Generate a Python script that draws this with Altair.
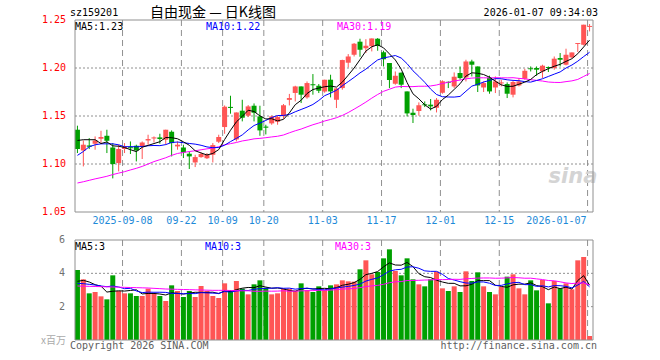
import altair as alt
import pandas as pd

dates = [
    "2025-08-27", "2025-08-28", "2025-08-29",
    "2025-09-01", "2025-09-02", "2025-09-03", "2025-09-04", "2025-09-05",
    "2025-09-08", "2025-09-09", "2025-09-10", "2025-09-11", "2025-09-12",
    "2025-09-15", "2025-09-16", "2025-09-17", "2025-09-18", "2025-09-19",
    "2025-09-22", "2025-09-23", "2025-09-24", "2025-09-25", "2025-09-26",
    "2025-09-29", "2025-09-30",
    "2025-10-09", "2025-10-10",
    "2025-10-13", "2025-10-14", "2025-10-15", "2025-10-16", "2025-10-17",
    "2025-10-20", "2025-10-21", "2025-10-22", "2025-10-23", "2025-10-24",
    "2025-10-27", "2025-10-28", "2025-10-29", "2025-10-30", "2025-10-31",
    "2025-11-03", "2025-11-04", "2025-11-05", "2025-11-06", "2025-11-07",
    "2025-11-10", "2025-11-11", "2025-11-12", "2025-11-13", "2025-11-14",
    "2025-11-17", "2025-11-18", "2025-11-19", "2025-11-20", "2025-11-21",
    "2025-11-24", "2025-11-25", "2025-11-26", "2025-11-27", "2025-11-28",
    "2025-12-01", "2025-12-02", "2025-12-03", "2025-12-04", "2025-12-05",
    "2025-12-08", "2025-12-09", "2025-12-10", "2025-12-11", "2025-12-12",
    "2025-12-15", "2025-12-16", "2025-12-17", "2025-12-18", "2025-12-19",
    "2025-12-22", "2025-12-23", "2025-12-24", "2025-12-25", "2025-12-26",
    "2025-12-29", "2025-12-30", "2025-12-31",
    "2026-01-05", "2026-01-06", "2026-01-07",
]

opens = [
    1.1357, 1.1141, 1.1193, 1.1211, 1.1263, 1.1294, 1.1172, 1.1010, 1.1156, 1.1175,
    1.1190, 1.1183, 1.1245, 1.1266, 1.1277, 1.1253, 1.1336, 1.1183, 1.1172, 1.1107,
    1.1016, 1.1072, 1.1060, 1.1096, 1.1232, 1.1385, 1.1595, 1.1256, 1.1555, 1.1503,
    1.1607, 1.1496, 1.1390, 1.1423, 1.1440, 1.1498, 1.1668, 1.1740, 1.1808, 1.1694,
    1.1831, 1.1815, 1.1756, 1.1878, 1.1669, 1.1791, 1.2055, 1.2138, 1.2274, 1.2206,
    1.2227, 1.2305, 1.2164, 1.2052, 1.1836, 1.1951, 1.1756, 1.1534, 1.1552, 1.1622,
    1.1618, 1.1586, 1.1742, 1.1856, 1.1808, 1.1948, 1.1902, 1.2068, 1.2016, 1.1797,
    1.1899, 1.1797, 1.1839, 1.1833, 1.1722, 1.1818, 1.1888, 1.1997, 1.2000, 1.1964,
    1.2010, 1.2000, 1.2104, 1.2034, 1.2110, 1.2250, 1.2242, 1.2428,
]
highs = [
    1.1399, 1.1245, 1.1270, 1.1287, 1.1346, 1.1357, 1.1218, 1.1201, 1.1218, 1.1235,
    1.1201, 1.1235, 1.1305, 1.1287, 1.1315, 1.1357, 1.1350, 1.1235, 1.1201, 1.1131,
    1.1096, 1.1120, 1.1114, 1.1218, 1.1305, 1.1610, 1.1711, 1.1537, 1.1669, 1.1614,
    1.1631, 1.1607, 1.1409, 1.1503, 1.1503, 1.1625, 1.1730, 1.1815, 1.1808, 1.1860,
    1.1937, 1.1833, 1.1878, 1.1930, 1.1791, 1.2086, 1.2145, 1.2260, 1.2305, 1.2300,
    1.2308, 1.2312, 1.2180, 1.2052, 1.1964, 1.1954, 1.1756, 1.1576, 1.1642, 1.1652,
    1.1677, 1.1687, 1.1872, 1.1860, 1.1954, 1.2016, 1.2086, 1.2086, 1.2016, 1.1860,
    1.1920, 1.1912, 1.1878, 1.1850, 1.1867, 1.1895, 1.1992, 1.2016, 1.2016, 1.2034,
    1.2016, 1.2120, 1.2156, 1.2201, 1.2162, 1.2260, 1.2451, 1.2458,
]
lows = [
    1.1114, 1.0975, 1.1156, 1.1149, 1.1218, 1.1114, 1.0850, 1.0923, 1.1114, 1.1104,
    1.1027, 1.1052, 1.1201, 1.1224, 1.1211, 1.1201, 1.1079, 1.1149, 1.1062, 1.0948,
    1.0968, 1.1065, 1.1052, 1.1016, 1.1218, 1.1315, 1.1524, 1.1235, 1.1444, 1.1489,
    1.1444, 1.1294, 1.1308, 1.1409, 1.1409, 1.1472, 1.1610, 1.1652, 1.1635, 1.1680,
    1.1722, 1.1739, 1.1742, 1.1694, 1.1583, 1.1774, 1.2006, 1.2120, 1.2117, 1.2156,
    1.2173, 1.2180, 1.2016, 1.1791, 1.1826, 1.1791, 1.1496, 1.1427, 1.1503, 1.1593,
    1.1558, 1.1537, 1.1732, 1.1791, 1.1791, 1.1878, 1.1860, 1.1912, 1.1750, 1.1750,
    1.1732, 1.1739, 1.1808, 1.1687, 1.1694, 1.1808, 1.1878, 1.1964, 1.1919, 1.1895,
    1.1958, 1.1982, 1.2016, 1.2027, 1.2104, 1.2167, 1.2235, 1.2381,
]
closes = [
    1.1156, 1.1201, 1.1180, 1.1245, 1.1281, 1.1242, 1.0999, 1.1156, 1.1183, 1.1164,
    1.1141, 1.1224, 1.1260, 1.1277, 1.1260, 1.1357, 1.1218, 1.1201, 1.1120, 1.1079,
    1.1072, 1.1104, 1.1096, 1.1197, 1.1281, 1.1597, 1.1584, 1.1537, 1.1482, 1.1600,
    1.1534, 1.1350, 1.1378, 1.1496, 1.1489, 1.1612, 1.1687, 1.1808, 1.1722, 1.1843,
    1.1820, 1.1763, 1.1878, 1.1756, 1.1787, 1.2083, 1.2120, 1.2253, 1.2190, 1.2232,
    1.2308, 1.2229, 1.2091, 1.1875, 1.1919, 1.1826, 1.1527, 1.1510, 1.1612, 1.1612,
    1.1600, 1.1669, 1.1862, 1.1846, 1.1909, 1.1895, 1.2068, 1.2034, 1.1818, 1.1843,
    1.1756, 1.1860, 1.1850, 1.1732, 1.1854, 1.1860, 1.1971, 1.1987, 1.1982, 1.2024,
    1.2000, 1.2097, 1.2086, 1.2138, 1.2162, 1.2260, 1.2451, 1.2438,
]
volumes = [
    4.20, 3.64, 2.80, 2.88, 2.62, 2.44, 3.88, 2.94, 2.80, 2.80,
    2.64, 2.64, 3.08, 2.80, 2.64, 2.34, 3.28, 2.94, 2.58, 2.94,
    2.58, 3.24, 2.94, 2.64, 2.52, 3.40, 3.00, 3.54, 3.08, 2.74,
    3.34, 3.58, 3.14, 2.74, 2.80, 3.08, 3.08, 2.94, 3.40, 3.00,
    2.88, 3.22, 3.00, 3.28, 3.34, 3.58, 3.52, 3.50, 4.24, 4.78,
    3.94, 4.08, 4.90, 5.44, 4.14, 3.88, 4.90, 3.64, 3.34, 3.22,
    3.64, 4.10, 3.10, 2.94, 3.22, 2.88, 4.12, 3.54, 4.06, 3.22,
    2.88, 2.74, 3.18, 3.80, 3.94, 3.10, 2.74, 3.58, 2.98, 3.60,
    2.20, 3.54, 3.10, 3.40, 3.04, 4.78, 4.98, 0.24,
]

# moving-average values before enough history is in the window
ma5_head = [1.1245, 1.1253, 1.1253, 1.1253]
ma10_head = [1.109, 1.113, 1.118, 1.120, 1.121, 1.121, 1.121, 1.120, 1.118]
ma30_head = [1.0802, 1.0815, 1.0830, 1.0845, 1.0858, 1.0872, 1.0890, 1.0905, 1.0920, 1.0938,
             1.0955, 1.0975, 1.1000, 1.1025, 1.1045, 1.1065, 1.1090, 1.1110, 1.1120, 1.1130,
             1.1138, 1.1148, 1.1158, 1.1166, 1.1180, 1.1200, 1.1212, 1.1224, 1.1240]
vma5_head = [3.52, 3.58, 3.48, 3.32]
vma10_head = [3.40, 3.38, 3.34, 3.30, 3.24, 3.20, 3.24, 3.18, 3.08]
vma30_head = [3.24, 3.23, 3.22, 3.21, 3.20, 3.19, 3.18, 3.17, 3.16, 3.15,
              3.14, 3.13, 3.12, 3.10, 3.08, 3.06, 3.05, 3.04, 3.03, 3.02,
              3.01, 3.00, 2.99, 2.98, 2.98, 2.98, 2.97, 2.96, 2.95]

price_ticks = [1.25, 1.20, 1.15, 1.10, 1.05]
price_grid = [1.20, 1.15, 1.10]
vol_ticks = [6, 4, 2]
vol_grid = [4, 2]
tick_dates = ["2025-09-08", "2025-09-22", "2025-10-09", "2025-10-20", "2025-11-03",
              "2025-11-17", "2025-12-01", "2025-12-15", "2026-01-07"]
tick_labels = ["2025-09-08", "09-22", "10-09", "10-20", "11-03",
               "11-17", "12-01", "12-15", "2026-01-07"]

RED = "#FF5555"
GREEN = "#00A000"
FRAME = "#909090"
MONO = "DejaVu Sans Mono"
CJK = "Noto Sans CJK SC"

W, H = 528, 320
P_TOP, P_BOT = 1.25, 1.05
P_LO = 1.25 - H / 960.0
V_HI = H / (100.0 / 6.0)

df = pd.DataFrame({"i": list(range(len(dates))), "date": dates, "o": opens, "h": highs,
                   "l": lows, "c": closes, "v": volumes})


def moving(s, n, head):
    m = s.rolling(n).mean()
    m.iloc[:len(head)] = head
    return m.round(4)


df["ma5"] = moving(df["c"], 5, ma5_head)
df["ma10"] = moving(df["c"], 10, ma10_head)
df["ma30"] = moving(df["c"], 30, ma30_head)
df["vma5"] = moving(df["v"], 5, vma5_head)
df["vma10"] = moving(df["v"], 10, vma10_head)
df["vma30"] = moving(df["v"], 30, vma30_head)

XS = alt.Scale(domain=[-0.41667, len(dates) - 0.41667], nice=False, zero=False)
X = alt.X("i:Q", scale=XS, axis=None)


def PY(field):
    return alt.Y(field, scale=alt.Scale(domain=[P_LO, P_TOP], nice=False, zero=False), axis=None)


def VY(field):
    return alt.Y(field, scale=alt.Scale(domain=[0, V_HI], nice=False, zero=True), axis=None)


up_color = alt.condition("datum.c >= datum.o", alt.value(RED), alt.value(GREEN))
gray = alt.value(FRAME)

base = alt.Chart(df)

ticks_df = pd.DataFrame({"i": [dates.index(d) for d in tick_dates], "lab": tick_labels,
                         "pt": P_TOP, "pb": P_BOT, "vt": 6.0, "vb": 0.0})
frame_df = pd.DataFrame({"pt": [P_TOP], "pb": [P_BOT], "vt": [6.0], "vb": [0.0],
                         "x0": [-0.41667], "x1": [len(dates) - 0.41667]})
pgrid_df = pd.DataFrame({"g": price_grid, "x0": -0.41667, "x1": len(dates) - 0.41667})
vgrid_df = pd.DataFrame({"g": vol_grid, "x0": -0.41667, "x1": len(dates) - 0.41667})
X0 = alt.X("x0:Q", scale=XS, axis=None)
X1 = alt.X("x1:Q", scale=XS, axis=None)

layers = []

# horizontal dotted grids and vertical dashed date lines
layers.append(alt.Chart(pgrid_df).mark_rule(strokeDash=[2, 2], strokeWidth=1)
              .encode(x=X0, x2="x1:Q", y=PY("g:Q"), color=gray))
layers.append(alt.Chart(vgrid_df).mark_rule(strokeDash=[2, 2], strokeWidth=1)
              .encode(x=X0, x2="x1:Q", y=VY("g:Q"), color=gray))
layers.append(alt.Chart(ticks_df).mark_rule(strokeDash=[6, 4], strokeWidth=1, xOffset=-2)
              .encode(x=X, y=PY("pt:Q"), y2="pb:Q", color=gray))
layers.append(alt.Chart(ticks_df).mark_rule(strokeDash=[6, 4], strokeWidth=1, xOffset=-2)
              .encode(x=X, y=VY("vt:Q"), y2="vb:Q", color=gray))

# watermark
layers.append(alt.Chart(pd.DataFrame({"s": ["sina"]})).mark_text(
    font="DejaVu Sans", fontSize=21, fontStyle="italic", fontWeight="bold", color="#D4D4D4",
    align="center", baseline="middle").encode(x=alt.value(503), y=alt.value(157), text="s:N"))

# volume
layers.append(base.mark_bar(orient="vertical", size=5).encode(x=X, y=VY("v:Q"), color=up_color))
for f, col in [("vma5", "#000000"), ("vma10", "#0000FF"), ("vma30", "#FF00FF")]:
    layers.append(base.mark_line(color=col, strokeWidth=1).encode(x=X, y=VY(f + ":Q")))

# candles
layers.append(base.mark_rule(strokeWidth=1).encode(x=X, y=PY("l:Q"), y2=alt.Y2("h:Q"), color=up_color))
layers.append(base.mark_bar(orient="vertical", size=5).encode(
    x=X, y=PY("o:Q"), y2=alt.Y2("c:Q"), color=up_color))
for f, col in [("ma30", "#FF00FF"), ("ma10", "#0000FF"), ("ma5", "#000000")]:
    layers.append(base.mark_line(color=col, strokeWidth=1).encode(x=X, y=PY(f + ":Q")))

# panel frames
for t, b, Yf in [("pt", "pb", PY), ("vt", "vb", VY)]:
    fr = alt.Chart(frame_df)
    layers.append(fr.mark_rule(strokeWidth=1).encode(x=X0, x2="x1:Q", y=Yf(t + ":Q"), color=gray))
    layers.append(fr.mark_rule(strokeWidth=1).encode(x=X0, x2="x1:Q", y=Yf(b + ":Q"), color=gray))
    layers.append(fr.mark_rule(strokeWidth=1).encode(x=X0, y=Yf(t + ":Q"), y2=b + ":Q", color=gray))
    layers.append(fr.mark_rule(strokeWidth=1).encode(x=X1, y=Yf(t + ":Q"), y2=b + ":Q", color=gray))

# axis labels
layers.append(alt.Chart(pd.DataFrame({"g": price_ticks, "s": [f"{t:.2f}" for t in price_ticks]})).mark_text(
    align="right", baseline="middle", font=MONO, fontSize=10, color="#FF0000").encode(
    x=alt.value(-4), y=PY("g:Q"), text="s:N"))
layers.append(alt.Chart(pd.DataFrame({"g": vol_ticks, "s": [str(t) for t in vol_ticks]})).mark_text(
    align="right", baseline="middle", font=MONO, fontSize=10, color="#707070").encode(
    x=alt.value(-5), y=VY("g:Q"), text="s:N"))
layers.append(alt.Chart(ticks_df.iloc[:-1]).mark_text(
    align="center", baseline="middle", font=MONO, fontSize=10, color="#1E8AD8", xOffset=-2).encode(
    x=X, y=alt.value(201), text="lab:N"))
layers.append(alt.Chart(ticks_df.iloc[-1:]).mark_text(
    align="right", baseline="middle", font=MONO, fontSize=10, color="#1E8AD8", xOffset=-3).encode(
    x=X, y=alt.value(201), text="lab:N"))


def label(s, x, y, color="#000000", size=10, align="left", font=MONO):
    return alt.Chart(pd.DataFrame({"s": [s]})).mark_text(
        align=align, baseline="middle", color=color, fontSize=size, font=font).encode(
        x=alt.value(x), y=alt.value(y), text="s:N")


layers += [
    label("sz159201", 0, -7),
    label("自由现金 — 日K线图", 143, -7, size=14, align="center", font=CJK),
    label("2026-01-07 09:34:03", W, -7, align="right"),
    label("MA5:1.23", 5, 7),
    label("MA10:1.22", 136, 7, color="#0000FF"),
    label("MA30:1.19", 267, 7, color="#FF00FF"),
    label("MA5:3", 5, 227),
    label("MA10:3", 135, 227, color="#0000FF"),
    label("MA30:3", 265, 227, color="#FF00FF"),
    label("x百万", -4, 321, color="#AAAAAA", align="right", font=CJK),
    label("Copyright 2026 SINA.COM", 0, 326, color="#606060"),
    label("http://finance.sina.com.cn", W - 1, 326, color="#606060", align="right"),
]

chart = alt.layer(*layers).resolve_scale(y="independent").properties(
    width=W, height=H,
    autosize=alt.AutoSizeParams(type="none"),
    padding={"left": 70, "top": 20, "right": 62, "bottom": 20},
    background="white",
).configure_view(strokeWidth=0)

chart.save("out.html", embed_options={"renderer": "svg", "actions": False})
